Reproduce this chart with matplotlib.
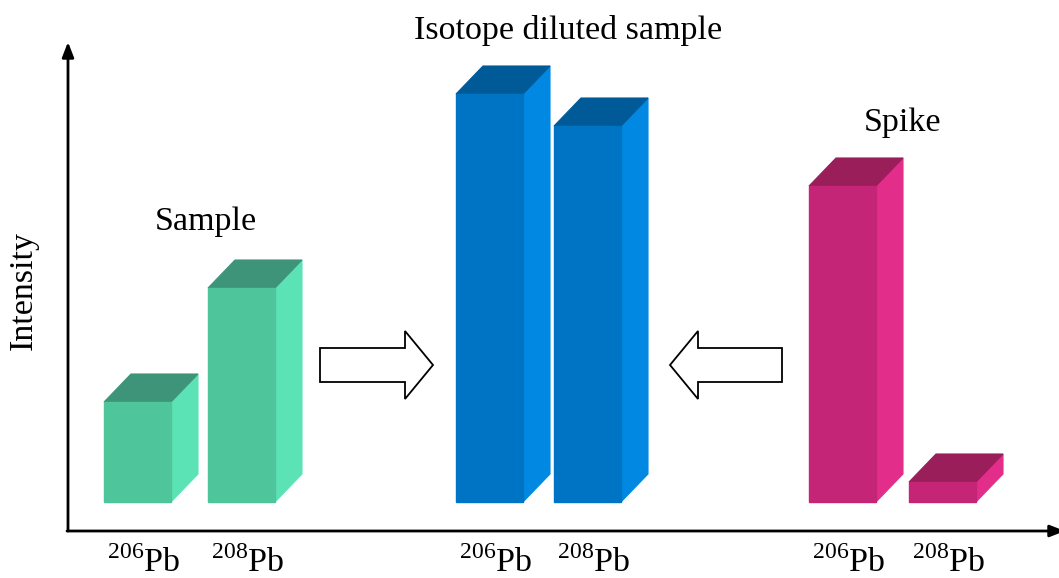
import matplotlib
matplotlib.use("Agg")
import matplotlib.pyplot as plt
from matplotlib.patches import Polygon

plt.rcParams['font.family'] = ['Liberation Serif', 'DejaVu Serif']
plt.rcParams['mathtext.fontset'] = 'custom'
plt.rcParams['mathtext.rm'] = 'Liberation Serif'

# ---- data ----
groups = ["Sample", "Isotope diluted sample", "Spike"]
isotopes = ["206", "208", "206", "208", "206", "208"]
intensity = [100, 214, 408, 376, 316, 20]          # relative intensity (bar heights)
bar_group = [0, 0, 1, 1, 2, 2]
bar_left = [104, 208, 456, 554, 809, 909]           # positions of bars along x

palette = {
    0: ("#4FC59C", "#3E9478", "#5CE3B5"),
    1: ("#0074C4", "#005A98", "#0088E2"),
    2: ("#C52576", "#9A1E59", "#E32D8A"),
}

W, H = 1059, 578
fig = plt.figure(figsize=(W / 100, H / 100), dpi=100)
ax = fig.add_axes([0, 0, 1, 1])
ax.set_xlim(0, W)
ax.set_ylim(0, H)
ax.axis('off')

base = H - 502
bw = 67
dx, dy = 27, 28

for left, h, g in zip(bar_left, intensity, bar_group):
    fc, tc, sc = palette[g]
    top = base + h
    front = Polygon([(left, base), (left + bw, base), (left + bw, top), (left, top)],
                    closed=True, facecolor=fc, edgecolor=fc, lw=1)
    topf = Polygon([(left, top), (left + bw, top), (left + bw + dx, top + dy), (left + dx, top + dy)],
                   closed=True, facecolor=tc, edgecolor=tc, lw=0.8)
    side = Polygon([(left + bw, base), (left + bw + dx, base + dy), (left + bw + dx, top + dy), (left + bw, top)],
                   closed=True, facecolor=sc, edgecolor=sc, lw=0.8)
    for p in (side, topf, front):
        ax.add_patch(p)

# isotope labels under bars
for left, iso in zip(bar_left, isotopes):
    ax.text(left + 40, H - 563, r'$^{%s}$Pb' % iso, ha='center', va='center', fontsize=24.5)

# axes with arrows
ax_y = H - 531
ax.annotate('', xy=(68, H - 42), xytext=(68, ax_y), annotation_clip=False,
            arrowprops=dict(arrowstyle='-|>,head_length=0.9,head_width=0.35', lw=2, color='black',
                            shrinkA=0, shrinkB=0))
ax.annotate('', xy=(1065, ax_y), xytext=(67, ax_y), annotation_clip=False,
            arrowprops=dict(arrowstyle='-|>,head_length=0.9,head_width=0.35', lw=2, color='black',
                            shrinkA=0, shrinkB=0))

ax.text(24, H - 291, "Intensity", rotation=90, ha='center', va='center', fontsize=24.5)

# group titles
ax.text(568, H - 30, groups[1], ha='center', va='center', fontsize=24.5)
ax.text(206, H - 222, groups[0], ha='center', va='center', fontsize=24.5)
ax.text(902, H - 123, groups[2], ha='center', va='center', fontsize=24.5)

# hollow block arrows
def block_arrow(x0, x1, direction):
    yc = H - 365
    bh = 17
    hh = 34
    hl = 28
    if direction > 0:
        pts = [(x0, yc - bh), (x1 - hl, yc - bh), (x1 - hl, yc - hh), (x1, yc),
               (x1 - hl, yc + hh), (x1 - hl, yc + bh), (x0, yc + bh)]
    else:
        pts = [(x1, yc - bh), (x0 + hl, yc - bh), (x0 + hl, yc - hh), (x0, yc),
               (x0 + hl, yc + hh), (x0 + hl, yc + bh), (x1, yc + bh)]
    ax.add_patch(Polygon(pts, closed=True, facecolor='white', edgecolor='black', lw=1.3))

block_arrow(320, 433, 1)
block_arrow(670, 782, -1)

fig.savefig("out.png", dpi=100)
